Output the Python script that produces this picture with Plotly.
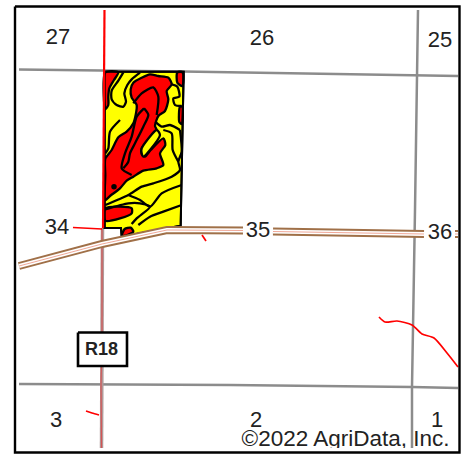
import plotly.graph_objects as go

# Map geometry. Field shapes are in crop coordinates
# of a 3x zoom with origin (90, 60); the rest are in picture pixels.
field_outline = [(44,35),(281,35),(272,497),(200,510),(130,524),(95,530),(93,504),(44,504)]
red_patches = [
    [(46,37),(85,37),(72,60),(58,85),(55,110),(55,135),(46,148)],
    [(122,88),(130,68),(155,53),(180,43),(205,48),(235,53),(245,73),(230,93),(235,118),(225,153),(205,168),(195,198),
     (200,210),(155,265),(155,282),(165,290),(182,270),(220,235),(226,255),(210,280),(220,315),(200,325),(160,332),
     (130,350),(110,362),(90,385),(60,408),(46,420),(46,345),(46,296),(65,270),(85,232),(110,215),(130,190),(140,135),(125,113)],
    [(262,37),(278,37),(277,78),(262,68)],
    [(270,140),(277,140),(275,192),(268,186)],
    [(46,445),(90,440),(125,445),(125,460),(90,475),(46,482)],
    [(96,526),(104,507),(122,503),(130,515),(102,528)],
]
yellow_patches = [
    [(200,210),(210,225),(180,270),(160,290),(155,280),(155,265)],
]
black_lines = [
    [(100,37),(85,62),(65,92),(65,118),(80,135),(100,140),(108,125),(103,100),(112,75),(125,58),(150,38)],
    [(162,145),(140,170),(125,230),(105,280),(95,325),(125,345)],
    [(162,145),(175,165),(160,200),(135,250),(120,280),(115,305),(100,325)],
    [(130,130),(155,100),(190,82),(205,110),(200,165)],
    [(245,73),(262,80),(268,110),(250,115),(255,135),(275,138)],
    [(196,185),(215,200),(240,195),(270,210)],
    [(270,210),(275,275),(265,305),(270,330),(245,350),(190,370),(155,380),(115,405),(46,435)],
    [(220,210),(245,220),(248,270),(265,305)],
    [(115,405),(150,420),(180,440),(215,400),(275,375)],
    [(46,448),(115,430),(150,430),(180,440),(140,475),(125,492)],
    [(275,435),(220,455),(180,470),(145,495)],
    [(90,180),(60,215),(55,265),(46,280)],
]
dot_xy = (72, 380)

grey_lines = [
    [(19,69.5),(105,70.5),(183,71.5),(458,76)],
    [(418,10),(417,90),(415,210),(412,387),(412,448)],
    [(19,384),(230,385),(412,387),(458,388)],
]
section_west = [(102.5,228),(102,333),(101,384),(101.5,448)]
red_west_upper = [(104.5,10),(104,71),(103,228)]
red_west_lower = [(102,228),(102,333),(101,384),(101.5,448)]
red_lines = [
    [(73,227.5),(102,229)],
    [(86,411),(92,413),(99,415)],
    [(202,235),(206,241)],
    [(379,317),(385,322),(397,321),(412,325),(422,334),(434,338),(447,353),(458,367)],
]
road_west = [(19,266),(102,244),(167,230),(243,230.5)]
road_east = [(273,231.5),(424,234)]
road_stub = [(455,234),(458,234)]

labels = ["27","26","25","34","35","36","3","2","1"]
label_x = [58,262,440,57,258,440,56,256,437]
label_y = [38.5,39.5,41,228.5,231,233,421.5,421.5,421.5]
copyright_text = "©2022 AgriData, Inc."
route_name = "R18"

RED, YELLOW, BLACK, GREY = "#ff0000", "#ffff00", "#000000", "#8c8c8c"
SMOOTH = 0.7
def z(pts):
    return [p[0]/3+90 for p in pts], [p[1]/3+60 for p in pts]
def xs(pts): return [p[0] for p in pts]
def ys(pts): return [p[1] for p in pts]

fig = go.Figure()
def line(x, y, color, w, shape="linear", op=1):
    fig.add_trace(go.Scatter(x=x, y=y, mode="lines", opacity=op, line=dict(color=color, width=w, shape=shape, smoothing=SMOOTH)))
def poly(x, y, fill, lw=2.3, shape="spline"):
    fig.add_trace(go.Scatter(x=x+x[:1], y=y+y[:1], mode="lines", fill="toself", fillcolor=fill,
                             line=dict(color=BLACK, width=lw, shape=shape, smoothing=SMOOTH)))

for g in grey_lines:
    line(xs(g), ys(g), GREY, 2.5)
line(xs(section_west), ys(section_west), "#b09a9a", 3.5)
line(xs(red_west_lower), ys(red_west_lower), RED, 1.2, op=0.45)

# field
x, y = z(field_outline)
poly(x, y, YELLOW, 2, "linear")
for p in red_patches:
    x, y = z(p); poly(x, y, RED)
for p in yellow_patches:
    x, y = z(p); poly(x, y, YELLOW)
for l in black_lines:
    x, y = z(l); line(x, y, BLACK, 2.3, "spline")
x, y = z(field_outline)
line(x + x[:1], y + y[:1], BLACK, 2)
x, y = z([dot_xy])
fig.add_trace(go.Scatter(x=x, y=y, mode="markers", marker=dict(color=BLACK, size=5.5)))

line(xs(red_west_upper), ys(red_west_upper), RED, 2.2)
for r in red_lines:
    line(xs(r), ys(r), RED, 1.7, "spline")

for rd in (road_west, road_east, road_stub):
    line(xs(rd), ys(rd), "#a07048", 8)
    line(xs(rd), ys(rd), "#ffffff", 4)
    line(xs(rd), ys(rd), "#f0a898", 1)

FONT = "Liberation Sans"
fig.add_trace(go.Scatter(x=label_x, y=label_y, mode="text", text=labels, textposition="middle center",
                         textfont=dict(family=FONT, size=22, color="#222222")))
fig.add_trace(go.Scatter(x=[449.5], y=[440.5], mode="text", text=[copyright_text], textposition="middle left",
                         textfont=dict(family=FONT, size=22.5, color="#222222")))
# clip below the copyright line
fig.add_trace(go.Scatter(x=[16,458,458,16,16], y=[448,448,451,451,448], mode="lines", fill="toself",
                         fillcolor="#ffffff", line=dict(color="#ffffff", width=0)))
# route shield
fig.add_trace(go.Scatter(x=[78,127,127,78,78], y=[332.5,332.5,366,366,332.5], mode="lines", fill="toself",
                         fillcolor="#ffffff", line=dict(color=BLACK, width=2.6)))
fig.add_trace(go.Scatter(x=[101.5], y=[350], mode="text", text=[route_name], textposition="middle center",
                         textfont=dict(family=FONT, size=18, color="#222222", weight="bold")))
# frame
fig.add_trace(go.Scatter(x=[15,459.5,459.5,15,15], y=[6.5,6.5,452.5,452.5,6.5], mode="lines",
                         line=dict(color=BLACK, width=2.4)))

fig.update_layout(width=462, height=454, margin=dict(l=0,r=0,t=0,b=0), showlegend=False,
                  paper_bgcolor="#ffffff", plot_bgcolor="#ffffff", hovermode=False,
                  xaxis=dict(range=[0,462], visible=False, fixedrange=True),
                  yaxis=dict(range=[454,0], visible=False, fixedrange=True))
fig.write_html("out.html", post_script="document.body.style.margin='0';", config={"displayModeBar": False})
